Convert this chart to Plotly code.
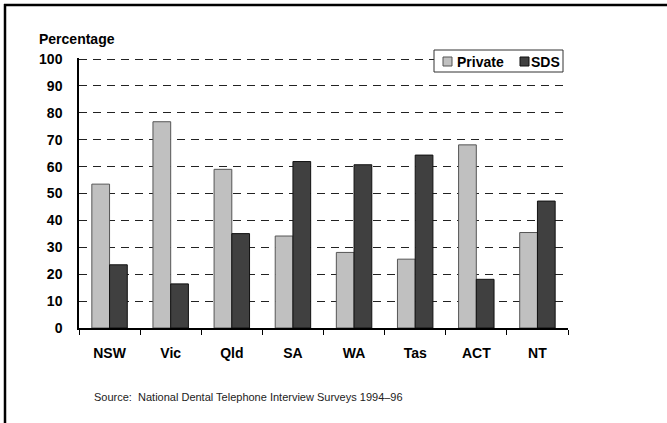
import plotly.graph_objects as go

categories = ["NSW", "Vic", "Qld", "SA", "WA", "Tas", "ACT", "NT"]
private = [53.5, 76.7, 59.0, 34.2, 28.1, 25.6, 68.1, 35.5]
sds = [23.5, 16.4, 35.1, 61.9, 60.7, 64.3, 18.1, 47.2]
y_ticks = [0, 10, 20, 30, 40, 50, 60, 70, 80, 90, 100]
series_names = ["Private", "SDS"]
series_colors = ["#c0c0c0", "#404040"]
series_lines = ["#555555", "#111111"]

W, H = 667, 423
L, R, T, B = 79, 99, 58, 95
PW, PH = W - L - R, H - T - B

def px(x):
    return (x - L) / PW

def py(y):
    return (H - B - y) / PH

FONT = "Arial, Liberation Sans, sans-serif"

fig = go.Figure()
for name, vals, col, lc in zip(series_names, [private, sds], series_colors, series_lines):
    fig.add_trace(go.Bar(name=name, x=categories, y=vals,
                         marker=dict(color=col, line=dict(color=lc, width=1))))

fig.update_layout(
    width=W, height=H,
    margin=dict(l=L, r=R, t=T, b=B, pad=0),
    paper_bgcolor="white", plot_bgcolor="white",
    barmode="group", bargap=0.42, bargroupgap=0,
    font=dict(family=FONT, color="black"),
    showlegend=False,
    xaxis=dict(showline=True, linecolor="black", linewidth=1.5,
               ticks="outside", tickson="boundaries", ticklen=5, tickcolor="black",
               tickfont=dict(size=14, weight="bold"), ticklabelstandoff=11,
               showgrid=False),
    yaxis=dict(range=[0, 100.4], tickvals=y_ticks, showline=True, linecolor="black", linewidth=1.5,
               ticks="", tickfont=dict(size=14, weight="bold"), ticklabelstandoff=12,
               showgrid=True, gridcolor="#222222", gridwidth=1, griddash="8px,6px",
               zeroline=False),
)

fig.add_annotation(text="<b>Percentage</b>", xref="paper", yref="paper",
                   x=px(37), y=py(39), xanchor="left", yanchor="middle",
                   showarrow=False, font=dict(size=14, family=FONT, color="black"))
fig.add_annotation(text="Source:  National Dental Telephone Interview Surveys 1994\u201396",
                   xref="paper", yref="paper", x=px(92), y=py(397),
                   xanchor="left", yanchor="middle", showarrow=False,
                   font=dict(size=11, family=FONT, color="#222222"))

# legend box (drawn manually for compact layout)
fig.add_shape(type="rect", xref="paper", yref="paper", x0=px(434), x1=px(563), y0=py(50), y1=py(72),
              line=dict(color="#333333", width=1), fillcolor="white", layer="above")
swatch_x = [443, 520]
text_x = [455, 529]
for sx, tx, name, col, lc in zip(swatch_x, text_x, series_names, series_colors, series_lines):
    fig.add_shape(type="rect", xref="paper", yref="paper", x0=px(sx), x1=px(sx + 9),
                  y0=py(57), y1=py(66), line=dict(color=lc, width=1), fillcolor=col, layer="above")
    fig.add_annotation(text="<b>%s</b>" % name, xref="paper", yref="paper",
                       x=px(tx), y=py(62), xanchor="left", yanchor="middle", showarrow=False,
                       font=dict(size=14, family=FONT, color="black"))

# frame lines (top and left)
fig.add_shape(type="line", xref="paper", yref="paper", x0=px(4), x1=px(667), y0=py(5), y1=py(5),
              line=dict(color="black", width=2.5))
fig.add_shape(type="line", xref="paper", yref="paper", x0=px(5), x1=px(5), y0=py(4), y1=py(423),
              line=dict(color="black", width=2.5))

fig.write_html("out.html", config={"displayModeBar": False})
with open("out.html", "r", encoding="utf-8") as f:
    html = f.read()
html = html.replace("<body>", '<body style="margin:0;padding:0;">', 1)
with open("out.html", "w", encoding="utf-8") as f:
    f.write(html)
